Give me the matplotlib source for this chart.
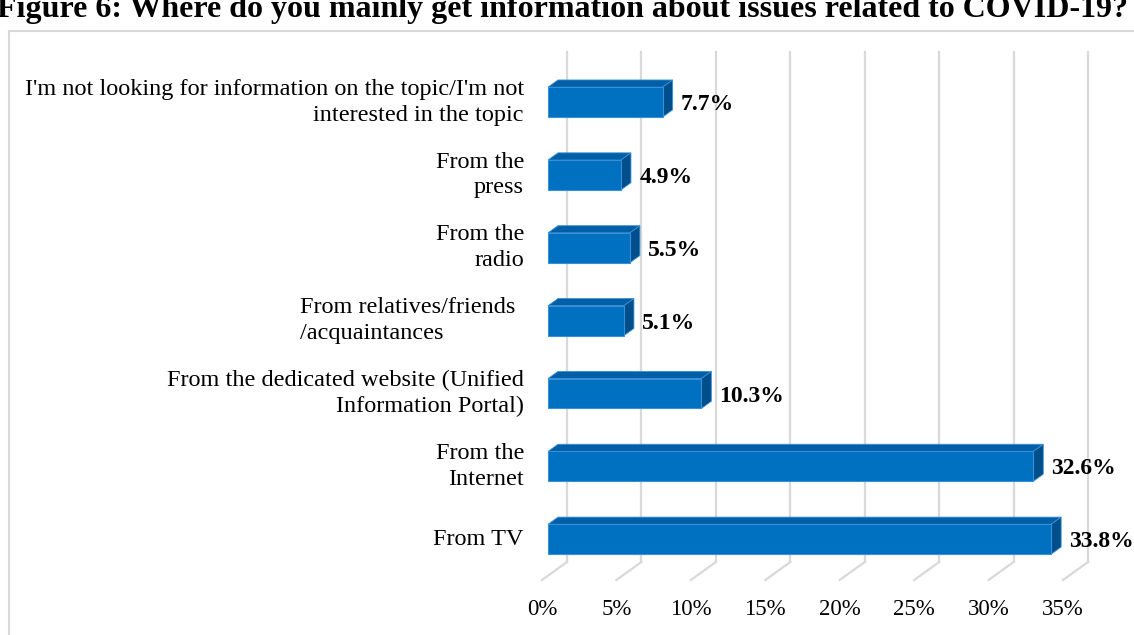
import matplotlib.pyplot as plt
from matplotlib.patches import Polygon, Rectangle
from matplotlib.lines import Line2D

plt.rcParams['font.family'] = ['Liberation Serif', 'DejaVu Serif']

# 数据（从下到上）
categories = [
    "From TV",
    "From the\nInternet",
    "From the dedicated website (Unified\nInformation Portal)",
    "From relatives/friends\n/acquaintances",
    "From the\nradio",
    "From the\npress",
    "I'm not looking for information on the topic/I'm not\ninterested in the topic",
]
values = [33.8, 32.6, 10.3, 5.1, 5.5, 4.9, 7.7]
xticks = [0, 5, 10, 15, 20, 25, 30, 35]
title = "Figure 6: Where do you mainly get information about issues related to COVID-19?"

# 伪3D参数：深度方向偏移（x单位为%，y单位为类别）
DX, DY = 1.68, 0.247
D0, D1 = 0.24, 0.64   # 柱子前后面所在深度
H = 0.41              # 柱子高度

front_c = '#0070C0'
top_c = '#005FA6'
side_c = '#004E8A'
grid_c = '#D9D9D9'

fig = plt.figure(figsize=(11.34, 6.35), dpi=100)
W, HH = 1134, 635

# 图表区边框
box_top = 1 - 31 / HH
fig.add_artist(Line2D([8.5 / W, 8.5 / W], [0, box_top], color=grid_c, lw=1.5))
fig.add_artist(Line2D([8.5 / W, 1.0], [box_top, box_top], color=grid_c, lw=1.5))

# 标题（顶部被裁掉一半）
fig.text(-3 / W, 1 - 17 / HH, title, fontsize=23, fontweight='bold', ha='left', va='baseline')

ax = fig.add_axes([542 / W, (HH - 580) / HH, (1063 - 542) / W, (580 - 70) / HH])
ax.set_xlim(0, 35)
ax.set_ylim(0, 7)
ax.axis('off')

# 网格线：后墙竖线 + 地板斜线
for v in xticks:
    ax.plot([v + DX, v + DX], [DY, 7 + DY], color=grid_c, lw=1.6, zorder=1, clip_on=False)
    ax.plot([v, v + DX], [0, DY], color=grid_c, lw=1.6, zorder=1, clip_on=False)
    ax.text(v, -0.41, f'{v}%', ha='center', va='center', fontsize=16.5, clip_on=False)

# 画柱子
for i, (cat, v) in enumerate(zip(categories, values)):
    y0 = i + 0.5 - H / 2
    xf, yf = D0 * DX, y0 + D0 * DY
    xb, yb = D1 * DX, y0 + D1 * DY
    top = Polygon([(xf, yf + H), (xf + v, yf + H), (xb + v, yb + H), (xb, yb + H)],
                  closed=True, fc=top_c, ec='#3A8FD6', lw=0.6, zorder=3, clip_on=False)
    side = Polygon([(xf + v, yf), (xb + v, yb), (xb + v, yb + H), (xf + v, yf + H)],
                   closed=True, fc=side_c, ec='#3A8FD6', lw=0.6, zorder=3, clip_on=False)
    front = Rectangle((xf, yf), v, H, fc=front_c, ec='#3A8FD6', lw=0.8, zorder=4, clip_on=False)
    ax.add_patch(top)
    ax.add_patch(side)
    ax.add_patch(front)

    # 数值标签
    ax.text(xb + v + 0.55, yf + H / 2 - 0.035, f'{v}%', ha='left', va='center',
            fontsize=17, fontweight='bold', clip_on=False)

    # 类别标签
    if cat.startswith('From relatives'):
        ax.text(-1.81, yf + H / 2, cat, ha='right', va='center', fontsize=17.5,
                multialignment='left', linespacing=1.3, clip_on=False)
    else:
        ax.text(-1.21, yf + H / 2, cat, ha='right', va='center', fontsize=17.5,
                multialignment='right', linespacing=1.3, clip_on=False)

plt.savefig('out.png', dpi=100)
